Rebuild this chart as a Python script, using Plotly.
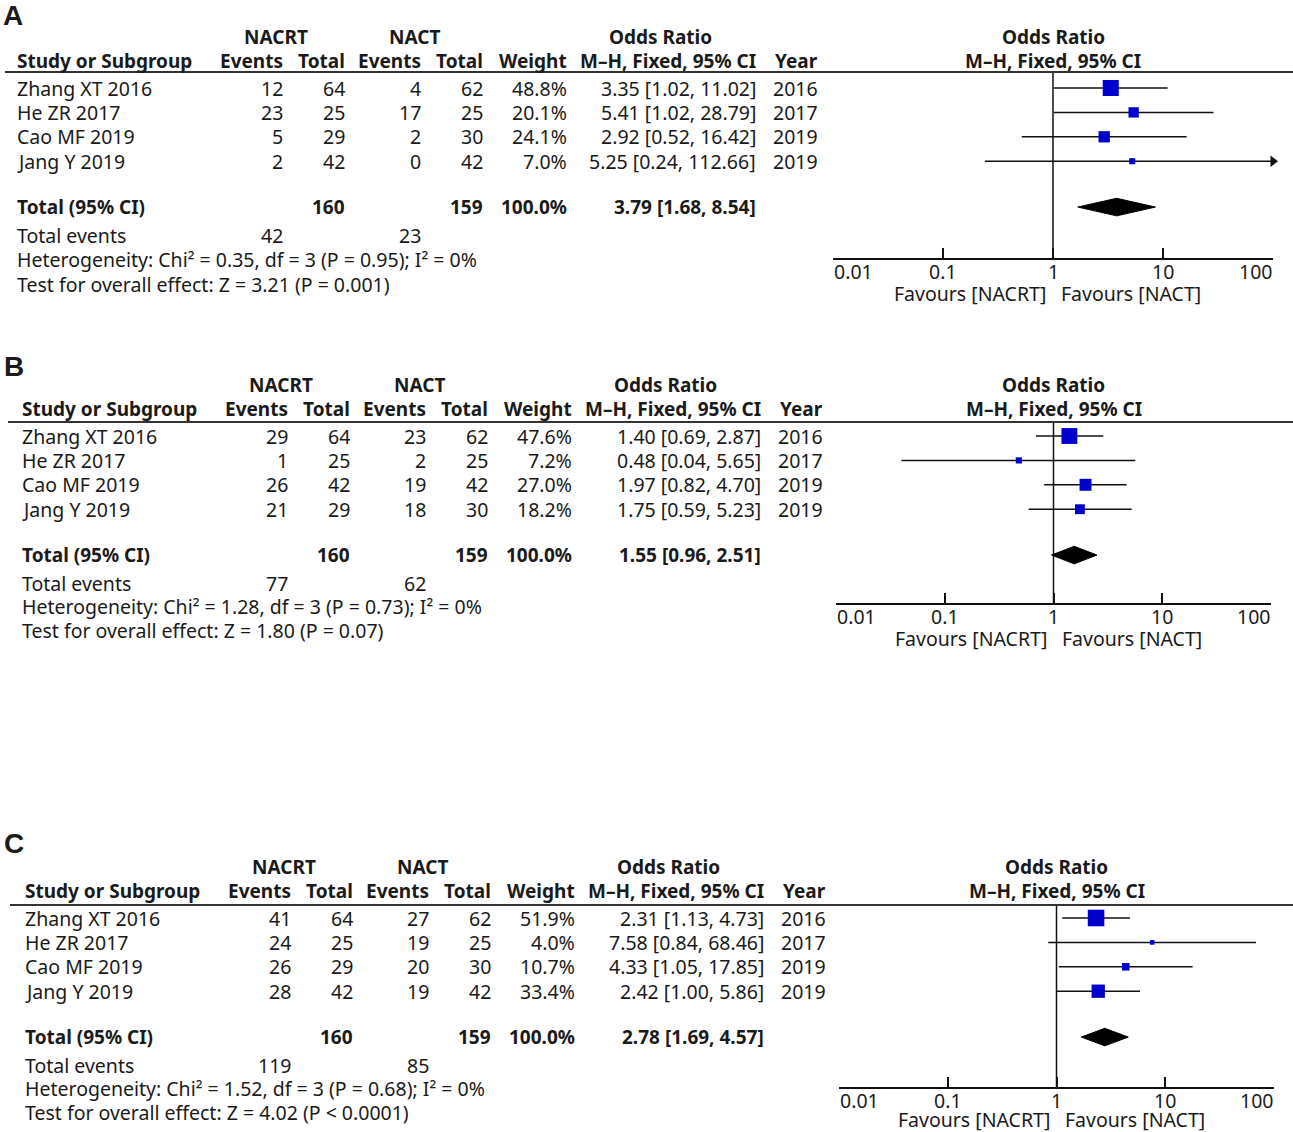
import numpy as np
import plotly.graph_objects as go

W, H = 1293, 1132          # screen size (body margin removed by post_script below)
FONT = "Noto Sans"
TXT = "#1a1a1a"
BLUE = "#0000cc"
FS = 19.5     # regular text size
FB = 19       # bold text size

# ---------------- data ----------------
studies = ["Zhang XT 2016", "He ZR 2017", "Cao MF 2019", "Jang Y 2019"]
years = [2016, 2017, 2019, 2019]
tick_vals = [0.01, 0.1, 1, 10, 100]
tick_labels = ["0.01", "0.1", "1", "10", "100"]

A_ev1 = [12, 23, 5, 2]
A_tot1 = [64, 25, 29, 42]
A_ev2 = [4, 17, 2, 0]
A_tot2 = [62, 25, 30, 42]
A_w = [48.8, 20.1, 24.1, 7.0]
A_or = [3.35, 5.41, 2.92, 5.25]
A_lo = [1.02, 1.02, 0.52, 0.24]
A_hi = [11.02, 28.79, 16.42, 112.66]
A_total = [160, 159, 3.79, 1.68, 8.54]
A_events = [42, 23]
A_het = ["0.35", "3", "0.95", "0"]
A_test = ["3.21", "P = 0.001"]

B_ev1 = [29, 1, 26, 21]
B_tot1 = [64, 25, 42, 29]
B_ev2 = [23, 2, 19, 18]
B_tot2 = [62, 25, 42, 30]
B_w = [47.6, 7.2, 27.0, 18.2]
B_or = [1.40, 0.48, 1.97, 1.75]
B_lo = [0.69, 0.04, 0.82, 0.59]
B_hi = [2.87, 5.65, 4.70, 5.23]
B_total = [160, 159, 1.55, 0.96, 2.51]
B_events = [77, 62]
B_het = ["1.28", "3", "0.73", "0"]
B_test = ["1.80", "P = 0.07"]

C_ev1 = [41, 24, 26, 28]
C_tot1 = [64, 25, 29, 42]
C_ev2 = [27, 19, 20, 19]
C_tot2 = [62, 25, 30, 42]
C_w = [51.9, 4.0, 10.7, 33.4]
C_or = [2.31, 7.58, 4.33, 2.42]
C_lo = [1.13, 0.84, 1.05, 1.00]
C_hi = [4.73, 68.46, 17.85, 5.86]
C_total = [160, 159, 2.78, 1.69, 4.57]
C_events = [119, 85]
C_het = ["1.52", "3", "0.68", "0"]
C_test = ["4.02", "P < 0.0001"]

panels = [
    dict(label="A", ev1=A_ev1, tot1=A_tot1, ev2=A_ev2, tot2=A_tot2, w=A_w, orr=A_or, lo=A_lo, hi=A_hi,
         total=A_total, events=A_events, het=A_het, test=A_test),
    dict(label="B", ev1=B_ev1, tot1=B_tot1, ev2=B_ev2, tot2=B_tot2, w=B_w, orr=B_or, lo=B_lo, hi=B_hi,
         total=B_total, events=B_events, het=B_het, test=B_test),
    dict(label="C", ev1=C_ev1, tot1=C_tot1, ev2=C_ev2, tot2=C_tot2, w=C_w, orr=C_or, lo=C_lo, hi=C_hi,
         total=C_total, events=C_events, het=C_het, test=C_test),
]

# ---------------- layout geometry (screen pixels) ----------------
geo = [
    dict(dx=0, dy=0, ax0=833, ax1=1273, top=72, bottom=258, rule0=5, lx=3, ly=16, fav=35),
    dict(dx=5, dy=348, ax0=836, ax1=1271, top=422, bottom=603, rule0=8, lx=4, ly=366, fav=35),
    dict(dx=8, dy=830, ax0=839, ax1=1274, top=905, bottom=1087, rule0=10, lx=4, ly=843, fav=32),
]
ROW0 = 88
SP = 24.4
TOTAL_ROW = 4.88
XMIN, XMAX = 0.01, 100


def PX(px):
    return px / W


def PY(py):
    return 1 - py / H


fig = go.Figure()
ann = []
shapes = []


def txt(s, px, py, anchor="left", bold=False, size=None, family=FONT):
    if size is None:
        size = FB if bold else FS
    ann.append(dict(text=f"<b>{s}</b>" if bold else s, x=PX(px), y=PY(py),
                    xref="paper", yref="paper", xanchor=anchor, yanchor="middle",
                    showarrow=False, borderpad=0, borderwidth=0,
                    font=dict(family=family, size=size, color=TXT)))


for k, (p, g) in enumerate(zip(panels, geo)):
    dx, dy = g["dx"], g["dy"]
    sfx = "" if k == 0 else str(k + 1)
    xa, ya = "x" + sfx, "y" + sfx

    def rpy(r):
        return ROW0 + dy + r * SP

    # panel letter
    txt(p["label"], g["lx"], g["ly"], bold=True, size=28, family="Liberation Sans")

    # headers
    h1, h2 = 37 + dy, 61 + dy
    txt("NACRT", 276 + dx, h1, "center", True)
    txt("NACT", 414 + dx, h1, "center", True)
    txt("Odds Ratio", 660 + dx, h1, "center", True)
    txt("Study or Subgroup", 17 + dx, h2, "left", True)
    txt("Events", 283 + dx, h2, "right", True)
    txt("Total", 345 + dx, h2, "right", True)
    txt("Events", 421 + dx, h2, "right", True)
    txt("Total", 483 + dx, h2, "right", True)
    txt("Weight", 567 + dx, h2, "right", True)
    txt("M–H, Fixed, 95% CI", 756 + dx, h2, "right", True)
    txt("Year", 818 + dx, h2, "right", True)
    cx = (g["ax0"] + g["ax1"]) / 2
    txt("Odds Ratio", cx, h1, "center", True)
    txt("M–H, Fixed, 95% CI", cx, h2, "center", True)

    # top rule
    shapes.append(dict(type="line", xref="paper", yref="paper", x0=PX(g["rule0"]), x1=1,
                       y0=PY(g["top"]), y1=PY(g["top"]), line=dict(color="#333", width=2)))

    # study rows
    for i, s in enumerate(studies):
        py = rpy(i)
        txt(s, 17 + dx, py, "left")
        txt(str(p["ev1"][i]), 283 + dx, py, "right")
        txt(str(p["tot1"][i]), 345 + dx, py, "right")
        txt(str(p["ev2"][i]), 421 + dx, py, "right")
        txt(str(p["tot2"][i]), 483 + dx, py, "right")
        txt(f"{p['w'][i]:.1f}%", 567 + dx, py, "right")
        txt(f"{p['orr'][i]:.2f} [{p['lo'][i]:.2f}, {p['hi'][i]:.2f}]", 756 + dx, py, "right")
        txt(str(years[i]), 818 + dx, py, "right")

    # total row
    n1, n2, tor, tlo, thi = p["total"]
    py = rpy(TOTAL_ROW)
    txt("Total (95% CI)", 17 + dx, py, "left", True)
    txt(str(n1), 345 + dx, py, "right", True)
    txt(str(n2), 483 + dx, py, "right", True)
    txt("100.0%", 567 + dx, py, "right", True)
    txt(f"{tor:.2f} [{tlo:.2f}, {thi:.2f}]", 756 + dx, py, "right", True)

    txt("Total events", 17 + dx, 235 + dy, "left")
    txt(str(p["events"][0]), 283 + dx, 235 + dy, "right")
    txt(str(p["events"][1]), 421 + dx, 235 + dy, "right")
    chi, df, ph, i2 = p["het"]
    txt(f"Heterogeneity: Chi² = {chi}, df = {df} (P = {ph}); I² = {i2}%", 17 + dx, 260 + dy - (2 if k else 0), "left")
    z, pz = p["test"]
    txt(f"Test for overall effect: Z = {z} ({pz})", 17 + dx, 284 + dy - (2 if k else 0), "left")

    # forest axes
    y_hi = (g["bottom"] - (ROW0 + dy)) / SP
    y_lo = (g["top"] - (ROW0 + dy)) / SP
    fig.update_layout(**{
        ("xaxis" + sfx): dict(type="log", range=[np.log10(XMIN), np.log10(XMAX)],
                              domain=[PX(g["ax0"]), PX(g["ax1"])], anchor=ya,
                              showline=True, linecolor="#111", linewidth=2, mirror=False,
                              ticks="inside", ticklen=10, tickwidth=2, tickcolor="#111",
                              tickvals=tick_vals, showticklabels=False,
                              showgrid=False, zeroline=False, fixedrange=True),
        ("yaxis" + sfx): dict(range=[y_hi, y_lo], domain=[PY(g["bottom"]), PY(g["top"])],
                              anchor=xa, visible=False, showgrid=False, zeroline=False, fixedrange=True),
    })

    # tick labels
    for v, lab in zip(tick_vals, tick_labels):
        anc = "left" if v == tick_vals[0] else ("right" if v == tick_vals[-1] else "center")
        ann.append(dict(text=lab, x=np.log10(v), y=PY(g["bottom"] + 13), xref=xa, yref="paper",
                        xanchor=anc, yanchor="middle", showarrow=False, borderpad=0,
                        font=dict(family=FONT, size=FS, color=TXT)))
    txt("Favours [NACRT]", cx - 7, g["bottom"] + g["fav"], "right")
    txt("Favours [NACT]", cx + 8, g["bottom"] + g["fav"], "left")

    # line of no effect
    fig.add_trace(go.Scatter(x=[1, 1], y=[y_lo, y_hi], mode="lines", line=dict(color="#111", width=1.5),
                             xaxis=xa, yaxis=ya, hoverinfo="skip", showlegend=False, cliponaxis=False))

    # CI lines
    for i in range(len(studies)):
        fig.add_trace(go.Scatter(x=[max(p["lo"][i], XMIN), min(p["hi"][i], XMAX)], y=[i, i], mode="lines",
                                 line=dict(color="#111", width=1.5), xaxis=xa, yaxis=ya,
                                 showlegend=False, hoverinfo="skip"))
        if p["hi"][i] > XMAX:
            fig.add_trace(go.Scatter(x=[XMAX], y=[i], mode="markers",
                                     marker=dict(symbol="triangle-right", size=10, color="#111"),
                                     xaxis=xa, yaxis=ya, showlegend=False, cliponaxis=False,
                                     hoverinfo="skip"))
    # squares
    fig.add_trace(go.Scatter(x=p["orr"], y=list(range(len(studies))), mode="markers",
                             marker=dict(symbol="square", color=BLUE, opacity=1,
                                         size=[2.3 * np.sqrt(w) for w in p["w"]],
                                         line=dict(width=0)),
                             xaxis=xa, yaxis=ya, showlegend=False))
    # diamond
    hd = 0.36
    fig.add_trace(go.Scatter(x=[tlo, tor, thi, tor, tlo],
                             y=[TOTAL_ROW, TOTAL_ROW - hd, TOTAL_ROW, TOTAL_ROW + hd, TOTAL_ROW],
                             mode="lines", fill="toself", fillcolor="black", line=dict(color="black", width=1),
                             xaxis=xa, yaxis=ya, showlegend=False))

fig.update_layout(width=W, height=H, margin=dict(l=0, r=0, t=0, b=0),
                  paper_bgcolor="white", plot_bgcolor="white",
                  annotations=ann, shapes=shapes, showlegend=False)
fig.write_html("out.html", config={"displayModeBar": False},
               post_script="document.body.style.margin='0px';document.body.style.overflow='hidden';")
